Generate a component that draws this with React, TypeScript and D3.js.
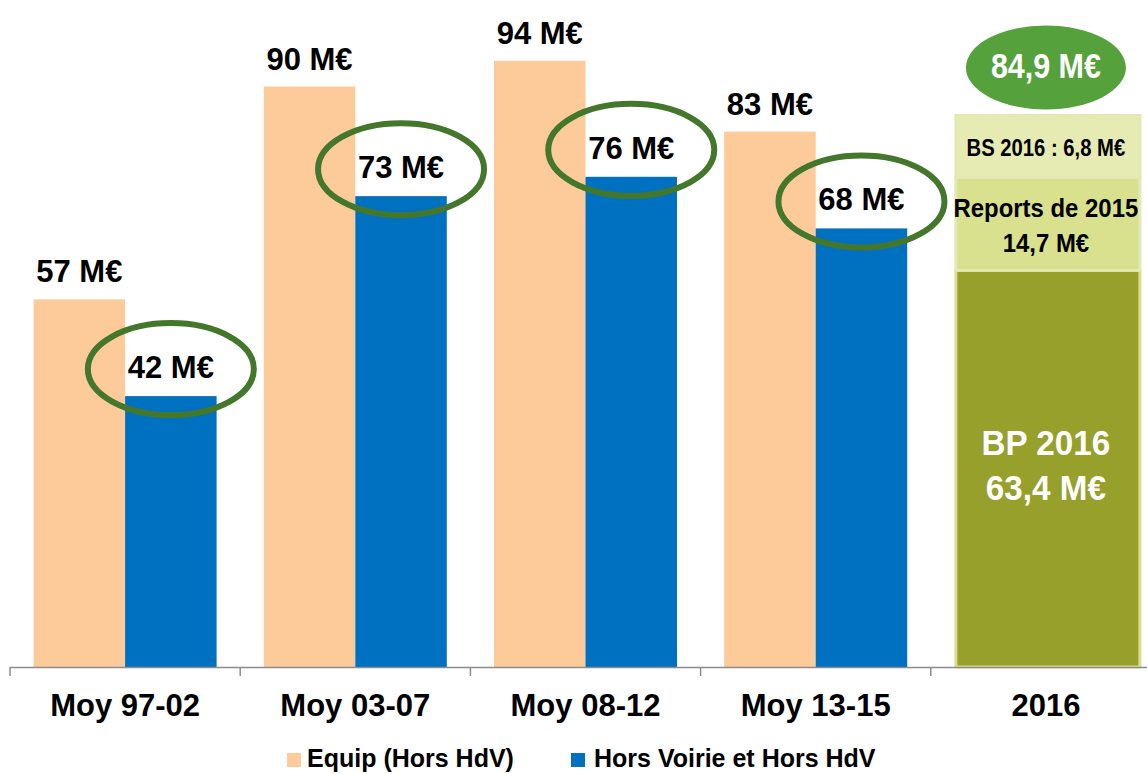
import React from 'react';
import * as d3 from 'd3';

// categories and values (M€)
const categories = ['Moy 97-02', 'Moy 03-07', 'Moy 08-12', 'Moy 13-15', '2016'];
const periods = ['Moy 97-02', 'Moy 03-07', 'Moy 08-12', 'Moy 13-15'];
const series = ['equip', 'horsVoirie'];
const seriesNames = ['Equip (Hors HdV)', 'Hors Voirie et Hors HdV'];
const equipValues = [57, 90, 94, 83];
const horsVoirieValues = [42, 73, 76, 68];

// 2016 stack: segment heights as drawn, and their labels
const stack2016Keys = ['bp', 'reports', 'bs'];
const stack2016Heights = [61.5, 14.4, 9.6];
const stack2016Labels = [['BP 2016', '63,4 M€'], ['Reports de 2015', '14,7 M€'], ['BS 2016 : 6,8 M€']];
const total2016Label = '84,9 M€';

const W = 1147;
const H = 774;
const FONT = 'Liberation Sans, Arial, Helvetica, sans-serif';

const colors = {
  equip: '#fdca99',
  horsVoirie: '#0070c0',
  ring: '#43772c',
  total: '#55a13b',
  bp: '#96a02b',
  reports: '#d9e08e',
  bs: '#e5ebb3',
  segStroke: '#e3e9b0',
  axis: '#8c8c8c',
};

export default function App() {
  const baseline = 667;
  const y = d3.scaleLinear().domain([0, 100]).range([baseline, 22]);
  const x0 = d3.scaleBand().domain(categories).range([10, 1161]).padding(0);
  const x1 = d3.scaleBand().domain(series).range([0, x0.bandwidth()]).paddingInner(0).paddingOuter(0.258);

  const rows = periods.map((p, i) => ({ p, equip: equipValues[i], horsVoirie: horsVoirieValues[i] }));

  const stacked = d3.stack().keys(stack2016Keys)([
    Object.fromEntries(stack2016Keys.map((k, i) => [k, stack2016Heights[i]])),
  ]);

  const bx = x0('2016')! + x1('equip')!;
  const bw = x1('horsVoirie')! + x1.bandwidth() - x1('equip')!;
  const bcx = bx + bw / 2;
  const stackTop = y(d3.sum(stack2016Heights));

  const segFill = [colors.bp, colors.reports, colors.bs];

  return (
    <svg width={W} height={H} style={{ position: 'absolute', left: 0, top: 0 }} fontFamily={FONT}>
      <rect width={W} height={H} fill="#fff" />

      {/* paired bars */}
      {rows.map((r) => (
        <g key={r.p} transform={`translate(${x0(r.p)},0)`}>
          {series.map((s) => (
            <rect
              key={s}
              x={x1(s)}
              y={y(r[s])}
              width={x1.bandwidth()}
              height={baseline - y(r[s])}
              fill={colors[s]}
            />
          ))}
        </g>
      ))}

      {/* 2016 stacked bar */}
      {stacked.map((layer, i) => {
        const [a, b] = layer[0];
        return (
          <rect
            key={layer.key}
            x={bx + 1.5}
            y={y(b)}
            width={bw + 1}
            height={y(a) - y(b)}
            fill={segFill[i]}
            stroke={i === 0 ? '#d6e08f' : colors.segStroke}
            strokeWidth={3}
          />
        );
      })}

      {/* axis */}
      <line x1={x0.range()[0]} x2={W} y1={baseline + 0.5} y2={baseline + 0.5} stroke={colors.axis} strokeWidth={1.5} />
      {categories.map((c) => (
        <line key={c} x1={x0(c)} x2={x0(c)} y1={baseline} y2={baseline + 9} stroke={colors.axis} strokeWidth={1.5} />
      ))}
      {categories.map((c) => (
        <text key={c} x={x0(c)! + x0.bandwidth() / 2} y={716} textAnchor="middle" fontWeight="bold" fontSize={31} fill="#000">
          {c}
        </text>
      ))}

      {/* value labels */}
      {rows.map((r) => (
        <g key={r.p}>
          <text
            x={x0(r.p)! + x1('equip')! + x1.bandwidth() / 2}
            y={y(r.equip) - 17}
            textAnchor="middle"
            fontWeight="bold"
            fontSize={31}
          >
            {r.equip} M€
          </text>
          <text
            x={x0(r.p)! + x1('horsVoirie')! + x1.bandwidth() / 2}
            y={y(r.horsVoirie) - 18}
            textAnchor="middle"
            fontWeight="bold"
            fontSize={31}
          >
            {r.horsVoirie} M€
          </text>
          <ellipse
            cx={x0(r.p)! + x1('horsVoirie')! + x1.bandwidth() / 2}
            cy={y(r.horsVoirie) - 27}
            rx={83}
            ry={46}
            fill="none"
            stroke={colors.ring}
            strokeWidth={6}
          />
        </g>
      ))}

      {/* 2016 segment labels */}
      <g fontWeight="bold" textAnchor="middle">
        <g transform={`translate(${bcx},${y(stacked[0][0][1]) + 185}) scale(0.95,1)`} fill="#fff" fontSize={35}>
          <text y={0}>{stack2016Labels[0][0]}</text>
          <text y={45}>{stack2016Labels[0][1]}</text>
        </g>
        <g transform={`translate(${bcx},${y(stacked[1][0][1]) + 40}) scale(0.92,1)`} fill="#000" fontSize={26}>
          <text y={0}>{stack2016Labels[1][0]}</text>
          <text y={35}>{stack2016Labels[1][1]}</text>
        </g>
        <g transform={`translate(${bcx},${y(stacked[2][0][1]) + 40}) scale(0.88,1)`} fill="#000" fontSize={23}>
          <text y={0}>{stack2016Labels[2][0]}</text>
        </g>
      </g>

      {/* total bubble */}
      <ellipse cx={bcx} cy={stackTop - 48} rx={80} ry={42} fill={colors.total} />
      <text
        transform={`translate(${bcx},${stackTop - 38}) scale(0.87,1)`}
        textAnchor="middle"
        fontWeight="bold"
        fontSize={35}
        fill="#fff"
      >
        {total2016Label}
      </text>

      {/* legend */}
      <g fontWeight="bold" fontSize={25}>
        <rect x={287} y={753} width={14} height={14} fill={colors.equip} />
        <text x={307} y={767}>{seriesNames[0]}</text>
        <rect x={571} y={753} width={14} height={14} fill={colors.horsVoirie} />
        <text x={594} y={767}>{seriesNames[1]}</text>
      </g>
    </svg>
  );
}
